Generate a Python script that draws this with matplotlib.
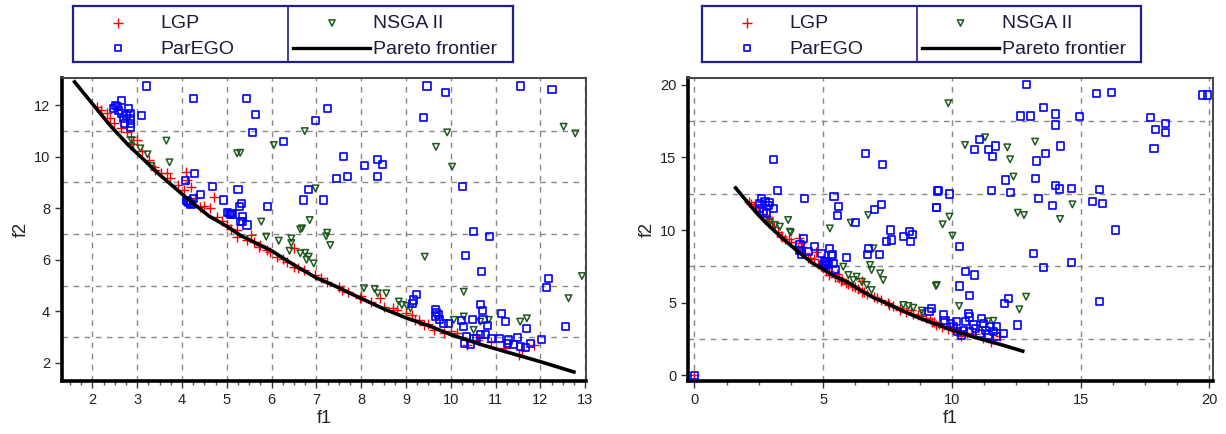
import numpy as np
import matplotlib.pyplot as plt
from matplotlib.ticker import MultipleLocator

plt.rcParams['font.family'] = ['Liberation Sans', 'DejaVu Sans']

# Pareto frontier (shared by both panels)
front_f1 = [1.6, 2.0, 2.4, 2.8, 3.5, 4.1, 4.6, 5.0, 5.3, 6.0, 6.5, 7.0, 7.4, 8.0, 8.5, 9.0, 9.5, 10.0, 10.7, 11.5, 12.0, 12.75]
front_f2 = [12.9, 12.05, 11.2, 10.45, 9.3, 8.4, 7.7, 7.3, 6.95, 6.35, 5.8, 5.3, 5.0, 4.5, 4.1, 3.75, 3.45, 3.1, 2.7, 2.3, 2.05, 1.65]

# LGP, left panel
lgp_f1 = [2.1, 2.18, 2.33, 2.48, 2.63, 2.77, 2.85, 3.0, 3.26, 3.37, 3.52, 3.67, 3.74, 4.08, 4.12,
          4.19, 4.04, 4.71, 4.63, 4.41, 4.78, 5.01, 5.23, 5.53, 5.75, 5.97, 6.12, 6.49, 5.23, 5.45,
          5.71, 5.90, 6.35, 6.49, 6.72, 6.98, 7.24, 7.50, 7.57, 7.98, 8.21, 8.43, 8.50, 8.80, 9.13,
          9.21, 9.3, 9.40, 9.62, 9.84, 10.14, 10.36, 11.22, 11.52, 11.85,
          2.4, 2.9, 3.1, 3.4, 3.9, 4.3, 4.5, 4.9, 5.1, 5.6, 6.25, 6.6, 7.1, 7.7, 8.0, 8.7, 9.0,
          9.5, 10.0, 10.6, 10.9, 11.6]
lgp_f2 = [11.93, 11.81, 11.68, 11.29, 11.1, 10.97, 10.77, 10.64, 9.87, 9.61, 9.35, 9.35, 9.16, 9.42, 9.09,
          8.83, 8.71, 8.45, 8.00, 8.06, 7.67, 7.35, 7.16, 6.96, 6.57, 6.31, 6.12, 6.45, 6.9, 6.77,
          6.51, 6.38, 5.93, 5.73, 5.60, 5.41, 5.15, 4.96, 4.83, 4.51, 4.38, 4.51, 4.18, 4.05, 3.86,
          3.67, 3.67, 3.47, 3.28, 3.15, 3.15, 2.70, 2.57, 2.31, 2.70,
          11.5, 10.5, 10.2, 9.5, 8.9, 8.4, 8.1, 7.5, 7.2, 6.7, 6.05, 5.7, 5.3, 4.75, 4.6, 4.15, 3.95,
          3.5, 3.25, 2.9, 2.8, 2.5]

# ParEGO, left panel
par_l_f1 = [3.21, 4.25, 5.43, 5.64, 5.57, 6.26, 6.99,
            2.64, 2.51, 2.59, 2.81, 2.85, 2.85, 2.85, 2.85, 2.70, 2.72, 3.09, 2.48, 2.66, 2.55, 2.75,
            4.28, 4.08, 4.69, 5.25, 4.41, 4.26, 4.93, 5.32, 5.29, 5.91,
            4.12, 4.15, 4.18, 4.10, 4.20, 5.02, 5.06, 5.10, 5.08, 5.12,
            5.34, 5.36, 5.45, 5.30, 6.83, 6.72,
            9.47, 9.89, 11.55, 12.26, 9.40, 7.24,
            7.61, 8.08, 8.36, 8.47, 8.36, 7.70, 7.45, 7.16,
            10.27, 10.51, 10.86, 10.33, 10.68, 12.19, 12.13, 12.57,
            9.23, 9.17, 9.15,
            9.66, 9.69, 9.66, 9.75, 9.84, 9.94, 9.72,
            10.66, 10.70, 10.24, 10.49, 10.29, 10.72, 10.82, 11.13, 11.22, 11.70,
            10.36, 10.51, 10.66, 10.77, 10.92, 11.09, 11.29, 11.49, 11.26, 11.41, 11.55, 11.78, 11.67,
            12.02, 10.30, 10.44, 10.58]
par_l_f2 = [12.74, 12.24, 12.24, 11.65, 10.93, 10.57, 11.39,
            12.19, 12.0, 11.8, 11.87, 11.68, 11.49, 11.29, 11.12, 11.48, 11.3, 11.59, 11.87, 11.68, 11.95, 11.6,
            9.34, 9.09, 8.83, 8.73, 8.54, 8.38, 8.32, 8.19, 8.06, 8.06,
            8.28, 8.22, 8.20, 8.30, 8.15, 7.82, 7.78, 7.80, 7.74, 7.75,
            7.67, 7.48, 7.35, 7.48, 8.73, 8.32,
            12.74, 12.49, 12.74, 12.61, 11.52, 11.87,
            10.0, 9.64, 9.90, 9.70, 9.22, 9.22, 9.16, 8.32,
            8.86, 7.10, 6.92, 6.15, 5.54, 5.28, 4.92, 3.41,
            4.67, 4.44, 4.29,
            4.08, 3.95, 3.80, 3.67, 3.54, 3.54, 3.89,
            4.25, 4.05, 3.65, 3.67, 3.41, 3.67, 3.47, 3.90, 3.60, 3.34,
            3.02, 2.96, 3.09, 3.09, 2.96, 2.96, 2.89, 2.98, 2.76, 2.70, 2.63, 2.74, 2.59,
            2.92, 2.76, 2.70, 2.96]

# NSGA II, left panel
nsga_l_f1 = [3.65, 3.72, 2.87, 3.07, 3.23, 3.31, 2.87,
             5.23, 5.30, 6.05, 6.74, 6.98, 6.85, 6.68,
             5.77, 5.88, 6.16, 6.44, 6.44, 6.40, 6.64, 6.75, 6.83, 6.64, 6.94, 6.78,
             9.92, 9.67, 10.03, 12.52, 12.78,
             7.24, 7.22, 7.31, 9.42,
             10.29, 12.93, 12.63,
             8.06, 8.30, 8.37, 8.56, 8.84, 8.91, 9.02, 9.10,
             10.07, 10.29, 10.66, 10.85, 11.55, 11.70, 10.51]
nsga_l_f2 = [10.62, 9.78, 10.64, 10.32, 10.09, 9.64, 10.4,
             10.13, 10.15, 10.45, 10.99, 8.77, 7.54, 7.22,
             7.48, 6.90, 6.74, 6.83, 6.65, 6.35, 6.25, 6.27, 6.12, 7.18, 5.86, 6.0,
             10.94, 10.38, 9.61, 11.16, 10.90,
             7.05, 6.91, 6.57, 6.12,
             4.76, 5.37, 4.51,
             4.90, 4.87, 4.70, 4.70, 4.38, 4.25, 4.21, 4.12,
             3.67, 3.80, 3.60, 3.67, 3.60, 3.73, 3.28]

# LGP, right panel
lgp_r_f1 = [0.0] + lgp_f1
lgp_r_f2 = [0.0] + lgp_f2

# ParEGO, right panel
par_r_f1 = [0.0,
            3.06, 3.23, 4.27, 5.42, 5.61, 5.55, 6.64, 7.31, 7.25, 7.01, 6.27, 7.60, 7.66, 7.47, 8.11,
            8.35, 8.46, 8.40, 9.43, 9.41,
            2.61, 2.74, 2.87, 3.06, 2.80, 2.54, 2.54, 2.70, 2.90,
            4.10, 4.25, 4.68, 4.42, 4.94, 5.23, 5.37, 5.91, 6.75, 7.18, 6.73, 4.16, 4.07, 5.33, 5.07,
            5.39, 5.48, 5.00, 5.10, 5.20, 5.15,
            12.88, 15.6, 16.21, 19.74, 19.92, 13.55, 12.68, 13.06, 14.03, 14.03, 14.95, 17.72, 18.28,
            17.9, 18.28, 17.85,
            11.07, 10.87, 11.41, 11.59, 11.71, 13.62, 13.29, 14.2, 12.09, 13.23, 12.26, 11.55, 13.36,
            13.90, 14.03, 14.17, 14.65, 15.73, 15.47, 15.84, 16.34, 9.47, 9.9, 9.41, 10.28, 13.16,
            13.55, 14.65, 10.51, 10.87, 10.31, 10.70, 15.73, 12.06, 12.19, 12.56, 9.21, 9.11,
            9.67, 9.73, 9.93, 10.19, 10.51, 10.64, 10.70, 10.83, 11.16, 11.22, 11.48, 11.74, 12.02,
            11.74, 11.09, 10.44, 10.38, 10.70, 10.05, 11.41, 11.6, 10.2, 10.9, 11.3]
par_r_f2 = [0.0,
            14.87, 12.71, 12.18, 12.3, 11.61, 10.99, 15.29, 14.53, 11.79, 11.43, 10.53, 10.0, 9.31, 9.20, 9.54,
            9.88, 9.70, 9.20, 12.69, 11.54,
            12.18, 11.95, 11.72, 11.49, 11.15, 11.84, 11.5, 11.3, 11.9,
            8.97, 9.43, 8.85, 8.50, 8.39, 8.74, 8.28, 8.09, 8.74, 8.34, 8.28, 8.28, 8.6, 8.21, 7.82,
            7.70, 7.29, 7.6, 7.55, 7.65, 7.75,
            20.05, 19.43, 19.49, 19.31, 19.31, 18.44, 17.86, 17.86, 18.0, 17.24, 17.82, 17.77, 17.36,
            16.9, 16.71, 15.63,
            16.25, 15.52, 15.52, 15.06, 15.79, 15.29, 14.76, 15.79, 13.45, 13.56, 12.6, 12.71, 12.18,
            11.66, 13.1, 12.83, 12.87, 12.8, 11.95, 11.84, 10.0, 12.71, 12.48, 11.56, 8.85, 8.39,
            7.43, 7.75, 7.13, 6.9, 6.14, 5.47, 5.06, 4.94, 5.29, 3.45, 4.6, 4.37,
            4.14, 3.79, 3.56, 3.68, 3.68, 4.26, 4.0, 3.45, 3.91, 3.56, 3.33, 3.33, 2.87,
            2.64, 2.87, 3.10, 2.76, 2.99, 3.33, 2.76, 3.0, 3.0, 3.2, 3.1]

# NSGA II, right panel
nsga_r_f1 = [3.64, 3.74, 5.26, 6.07, 6.75, 6.95, 2.93, 3.13, 3.32,
             9.86, 11.29, 10.51, 12.15, 12.26, 13.23, 12.39, 14.68, 12.56, 12.8, 14.2, 9.9, 9.64, 10.02,
             9.38, 12.88, 12.62, 10.28, 11.61, 11.4, 8.87,
             5.78, 6.82, 6.88, 7.21, 7.33, 6.30, 6.50, 6.69, 6.88, 6.17, 5.98, 8.11, 8.31, 8.50, 8.83,
             9.41, 3.71]
nsga_r_f2 = [10.69, 9.81, 10.11, 10.5, 11.03, 8.74, 10.57, 10.34, 10.23,
             18.74, 16.39, 15.86, 15.7, 14.87, 16.09, 13.68, 11.77, 11.19, 11.03, 10.76, 10.92, 10.39, 9.61,
             6.14, 5.4, 4.53, 4.76, 3.74, 3.7, 4.26,
             7.47, 7.59, 7.24, 7.01, 6.55, 6.78, 6.43, 6.21, 5.86, 6.55, 6.9, 4.83, 4.76, 4.64, 4.44,
             6.21, 9.88]

W, H = 1226, 434
fig = plt.figure(figsize=(W / 100, H / 100), dpi=100)

RED = '#ff0000'
BLUE = '#0000ff'
GREEN = '#1e5a1e'
NAVY = '#1f1f8f'


def px_axes(x0, y0, x1, y1):
    return fig.add_axes([x0 / W, 1 - y1 / H, (x1 - x0) / W, (y1 - y0) / H])


def panel(ax, lgp, par, nsga):
    ax.scatter(lgp[0], lgp[1], marker='+', s=60, c=RED, linewidths=1.0, zorder=3)
    ax.scatter(nsga[0], nsga[1], marker='v', s=22, facecolors='none', edgecolors=GREEN, linewidths=1.1, zorder=4)
    ax.scatter(par[0], par[1], marker='s', s=26, facecolors='none', edgecolors=BLUE, linewidths=1.2, zorder=5)
    ax.plot(front_f1, front_f2, color='black', lw=2.6, zorder=6)
    for s in ['left', 'bottom']:
        ax.spines[s].set_linewidth(2.6)
        ax.spines[s].set_color('black')
    for s in ['top', 'right']:
        ax.spines[s].set_linewidth(1.4)
        ax.spines[s].set_color('#444444')
    ax.tick_params(which='major', direction='out', length=5, width=1, labelsize=10.5,
                   colors='#333333', labelcolor='#222222')
    ax.tick_params(which='minor', direction='out', length=3, width=1, colors='#555555')
    ax.tick_params(axis='y', which='minor', length=0)
    ax.grid(True, axis='x', which='major', ls=(0, (4, 4)), color='#888888', lw=1)
    ax.grid(True, axis='y', which='minor', ls=(0, (4, 4)), color='#888888', lw=1)
    ax.set_axisbelow(True)
    ax.set_xlabel('f1', fontsize=13, labelpad=2, color='#222222')
    ax.set_ylabel('f2', fontsize=13, labelpad=3, color='#222222')


def legend_box(x0, x1):
    lax = px_axes(x0, 6, x1, 62)
    w = x1 - x0
    lax.set_xlim(0, w)
    lax.set_ylim(56, 0)
    lax.set_xticks([])
    lax.set_yticks([])
    for s in lax.spines.values():
        s.set_color(NAVY)
        s.set_linewidth(1.6)
    div = 215 * w / 440
    lax.axvline(div, color=NAVY, lw=1.2)
    lax.scatter([45], [17], marker='+', s=55, c=RED, linewidths=1.0)
    lax.scatter([45], [42], marker='s', s=22, facecolors='none', edgecolors=BLUE, linewidths=1.2)
    lax.scatter([div + 44], [17], marker='v', s=20, facecolors='none', edgecolors=GREEN, linewidths=1.1)
    lax.plot([div + 5, div + 82], [42, 42], color='black', lw=2.4)
    kw = dict(fontsize=14, va='center', ha='left', color='#1a1a3a')
    lax.text(87, 18, 'LGP', **kw)
    lax.text(87, 43, 'ParEGO', **kw)
    lax.text(div + 85, 18, 'NSGA II', **kw)
    lax.text(div + 85, 43, 'Pareto frontier', **kw)


# left panel
ax1 = px_axes(62, 78, 586, 381)
panel(ax1, (lgp_f1, lgp_f2), (par_l_f1, par_l_f2), (nsga_l_f1, nsga_l_f2))
ax1.set_xlim(1.32, 13.02)
ax1.set_ylim(1.3, 13.05)
ax1.xaxis.set_major_locator(MultipleLocator(1))
ax1.xaxis.set_minor_locator(MultipleLocator(0.25))
ax1.set_yticks([2, 4, 6, 8, 10, 12])
ax1.set_yticks([3, 5, 7, 9, 11], minor=True)

# right panel
ax2 = px_axes(688, 78, 1213, 381)
panel(ax2, (lgp_r_f1, lgp_r_f2), (par_r_f1, par_r_f2), (nsga_r_f1, nsga_r_f2))
ax2.set_xlim(-0.25, 20.14)
ax2.set_ylim(-0.41, 20.48)
ax2.xaxis.set_major_locator(MultipleLocator(5))
ax2.xaxis.set_minor_locator(MultipleLocator(1.25))
ax2.set_yticks([0, 5, 10, 15, 20])
ax2.set_yticks([2.5, 7.5, 12.5, 17.5], minor=True)

legend_box(73, 513)
legend_box(702, 1141)

fig.savefig('out.png', dpi=100)
